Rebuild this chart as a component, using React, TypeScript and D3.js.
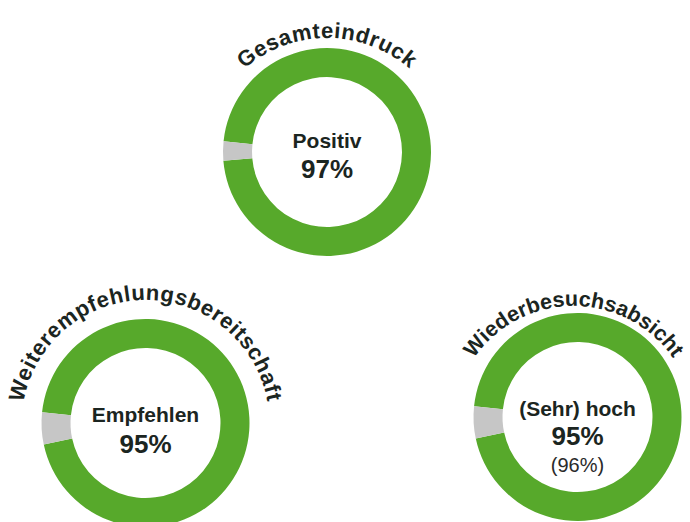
import React from "react";
import * as d3 from "d3";

const titles = ["Gesamteindruck", "Weiterempfehlungsbereitschaft", "Wiederbesuchsabsicht"];
const labels = ["Positiv", "Empfehlen", "(Sehr) hoch"];
const values = [97, 95, 95];
const previous: (number | null)[] = [null, null, 96];

const GREEN = "#57a92b";
const GRAY = "#c6c6c6";
const TEXT = "#1b2521";

const layout = [
  { cx: 327, cy: 152, tr: 126, tdx: 0, tdy: 12, fs: 22, ls: 0.6, lab: -4, val: 26, prev: 0 },
  { cx: 145.5, cy: 423, tr: 124, tdx: 0, tdy: 1, fs: 22, ls: 0.6, lab: -1, val: 30, prev: 0 },
  { cx: 577.5, cy: 417, tr: 121, tdx: -4, tdy: 10, fs: 21.5, ls: 0, lab: -1, val: 28, prev: 55 },
];

const R_OUT = 104;
const R_IN = 75;

export default function App() {
  const pie = d3
    .pie<number>()
    .sort(null)
    .value((d) => d)
    .startAngle((-84 * Math.PI) / 180)
    .endAngle((-84 * Math.PI) / 180 + 2 * Math.PI);
  const arc = d3.arc<d3.PieArcDatum<number>>().innerRadius(R_IN).outerRadius(R_OUT);
  const font = "'Liberation Sans', Arial, Helvetica, sans-serif";

  return (
    <svg
      width={690}
      height={522}
      style={{ position: "absolute", left: 0, top: 0 }}
      fontFamily={font}
    >
      <rect width={690} height={522} fill="#fff" />
      {values.map((v, i) => {
        const L = layout[i];
        const slices = pie([v, 100 - v]);
        const a = (110 * Math.PI) / 180;
        const tcx = L.cx + L.tdx;
        const tcy = L.cy + L.tdy;
        const x0 = tcx - L.tr * Math.sin(a);
        const y0 = tcy - L.tr * Math.cos(a);
        const x1 = tcx + L.tr * Math.sin(a);
        const pathD = `M${x0},${y0} A${L.tr},${L.tr} 0 1 1 ${x1},${y0}`;
        const pid = `tp${i}`;
        return (
          <g key={i}>
            <path id={pid} d={pathD} fill="none" />
            <text fontSize={L.fs} fontWeight="bold" fill={TEXT} textAnchor="middle" letterSpacing={L.ls}>
              <textPath href={`#${pid}`} startOffset="50%">
                {titles[i]}
              </textPath>
            </text>
            <g transform={`translate(${L.cx},${L.cy})`}>
              {slices.map((s, j) => (
                <path key={j} d={arc(s) || ""} fill={j === 0 ? GREEN : GRAY} />
              ))}
              <text y={L.lab} textAnchor="middle" fontSize={21} fontWeight="bold" fill={TEXT}>
                {labels[i]}
              </text>
              <text y={L.val} textAnchor="middle" fontSize={26} fontWeight="bold" fill={TEXT}>
                {`${v}%`}
              </text>
              {previous[i] !== null && (
                <text y={L.prev} textAnchor="middle" fontSize={20} fill="#2a2a2a">
                  {`(${previous[i]}%)`}
                </text>
              )}
            </g>
          </g>
        );
      })}
    </svg>
  );
}
